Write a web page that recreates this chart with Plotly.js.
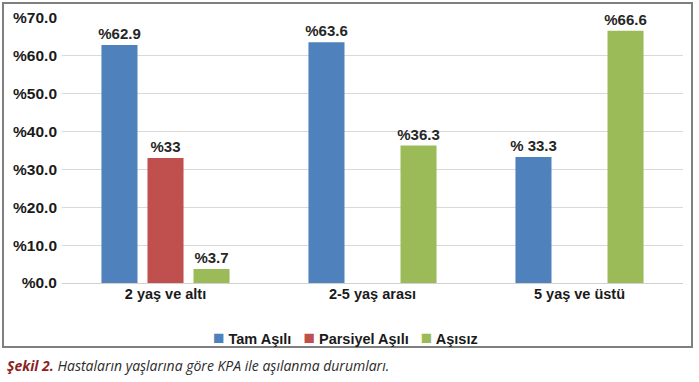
<!DOCTYPE html>
<html><head><meta charset="utf-8">
<script src="https://cdn.plot.ly/plotly-3.0.1.min.js"></script>
<style>body{margin:0;background:#fff;}#c{width:699px;height:382px;}</style>
</head><body><div id="c"></div>
<script>
const categories = ["2 yaş ve altı", "2-5 yaş arası", "5 yaş ve üstü"];
const seriesNames = ["Tam Aşılı", "Parsiyel Aşılı", "Aşısız"];
const seriesColors = ["#4F81BD", "#C0504D", "#9BBB59"];
const tamAsili = [62.9, 63.6, 33.3];
const tamAsiliText = ["%62.9", "%63.6", "% 33.3"];
const parsiyelAsili = [33, null, null];
const parsiyelAsiliText = ["%33", "", ""];
const asisiz = [3.7, 36.3, 66.6];
const asisizText = ["%3.7", "%36.3", "%66.6"];
const yTickVals = [0, 10, 20, 30, 40, 50, 60, 70];
const yTickText = ["%0.0", "%10.0", "%20.0", "%30.0", "%40.0", "%50.0", "%60.0", "%70.0"];

const font = "'Liberation Sans', Arial, sans-serif";
const lblFont = {family: font, size: 15, color: "#262626", weight: "bold"};
function tr(i, y, text) {
  return {type: "bar", name: seriesNames[i], x: categories, y: y, text: text,
    textposition: "outside", cliponaxis: false, constraintext: "none", textfont: lblFont,
    marker: {color: seriesColors[i]}, hoverinfo: "none", showlegend: false};
}
const data = [
  tr(0, tamAsili, tamAsiliText),
  tr(1, parsiyelAsili, parsiyelAsiliText),
  tr(2, asisiz, asisizText)
];
const legendText = seriesNames.map((n, i) =>
  "<span style='color:" + seriesColors[i] + ";font-size:19px'>■</span>" + " " + n).join("   ");
const layout = {
  width: 699, height: 382,
  margin: {l: 62, r: 16, t: 18, b: 99},
  paper_bgcolor: "#fff", plot_bgcolor: "#fff",
  barmode: "group", bargap: 0.333, bargroupgap: 0.217,
  showlegend: false,
  xaxis: {showgrid: false, zeroline: false, showline: false, ticks: "",
    tickfont: {family: font, size: 14.5, color: "#1a1a1a", weight: "bold"}, fixedrange: true},
  yaxis: {range: [0, 70], tickvals: yTickVals, ticktext: yTickText, showgrid: true,
    gridcolor: "#d9d9d9", gridwidth: 1, zeroline: true, zerolinecolor: "#d0d0d0", zerolinewidth: 1,
    showline: false, ticks: "", ticklabelstandoff: 4,
    tickfont: {family: font, size: 15.5, color: "#1a1a1a", weight: "bold"}, fixedrange: true},
  shapes: [{type: "rect", xref: "paper", yref: "paper", x0: -0.095, x1: 1.0145, y0: -0.2415, y1: 1.0566,
    line: {color: "#7f7f7f", width: 2}, fillcolor: "rgba(0,0,0,0)", layer: "below"}],
  annotations: [
    {xref: "paper", yref: "paper", x: 0.456, y: -0.2075, xanchor: "center", yanchor: "middle",
      showarrow: false, text: legendText,
      font: {family: font, size: 14.5, color: "#1a1a1a", weight: "bold"}},
    {xref: "paper", yref: "paper", x: -0.092, y: -0.3096, xanchor: "left", yanchor: "middle",
    showarrow: false, align: "left",
    text: "<b><i><span style='color:#8e1f24'>Şekil 2.</span></i></b> <i>Hastaların yaşlarına göre KPA ile aşılanma durumları.</i>",
    font: {family: "'Open Sans', 'Noto Sans', sans-serif", size: 14, color: "#2b2b2b"}}]
};
Plotly.newPlot("c", data, layout, {displayModeBar: false, staticPlot: true});
</script></body></html>
